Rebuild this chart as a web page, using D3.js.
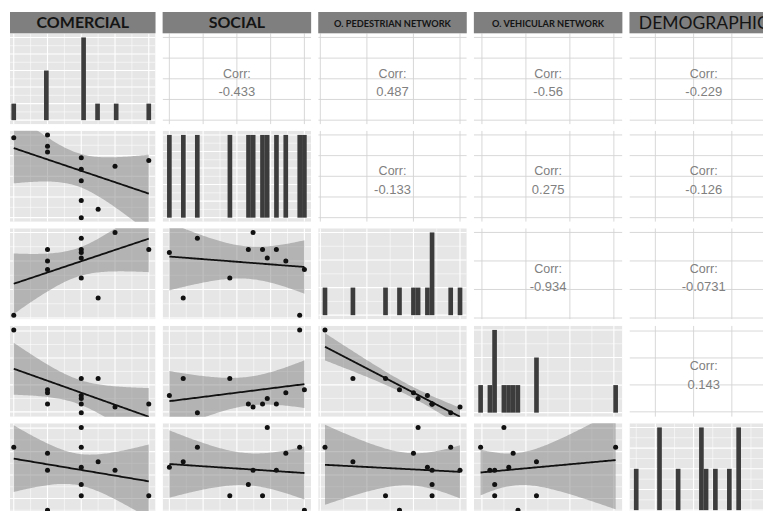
<!DOCTYPE html>
<html>
<head>
<meta charset="utf-8">
<script src="https://cdn.jsdelivr.net/npm/d3@7"></script>
<style>
  body { margin: 0; background: #ffffff; }
  svg { display: block; }
</style>
</head>
<body>
<svg id="chart" width="763" height="511"></svg>
<script>
// Variables of the pairs matrix, in display order
const variables = ["COMERCIAL", "SOCIAL", "O. PEDESTRIAN NETWORK", "O. VEHICULAR NETWORK", "DEMOGRAPHIC"];

// One value per observation (12 areas) for each variable
const comercial   = [0, 2, 2, 2, 4, 4, 4, 4, 4, 5, 6, 8];
const social      = [3.86, 4.00, 3.45, 3.17, 2.90, 2.34, 1.79, 0.83, 0.00, 0.41, 2.48, 2.76];
const pedestrian  = [1.1, 2.7, 3.0, 3.4, 3.1, 3.4, 2.4, 3.8, 3.3, 1.7, 4.0, 3.4];
const vehicular   = [4.04, 1.82, 1.71, 1.29, 1.50, 1.29, 2.24, 0.97, 1.61, 2.24, 1.18, 1.29];
const demographic = [3.18, 0.50, 2.93, 2.20, 4.03, 1.60, 1.11, 3.18, 2.33, 2.57, 2.20, 1.11];

// Major axis breaks of each variable
const comercialBreaks   = [0, 2, 4, 6, 8];
const socialBreaks      = [0, 1, 2, 3, 4];
const pedestrianBreaks  = [1, 2, 3, 4];
const vehicularBreaks   = [1, 2, 3, 4];
const demographicBreaks = [1, 2, 3, 4];

// Correlation labels of the upper triangle, row by row
const corrLabels = ["-0.433", "0.487", "-0.56", "-0.229", "-0.133", "0.275", "-0.126", "-0.934", "-0.0731", "0.143"];

const columns = [comercial, social, pedestrian, vehicular, demographic];
const breaks = [comercialBreaks, socialBreaks, pedestrianBreaks, vehicularBreaks, demographicBreaks];
const nVar = variables.length;
const nObs = comercial.length;

const svg = d3.select("#chart");
const defs = svg.append("defs");

// Panel layout
const colBand = d3.scaleBand().domain(d3.range(nVar)).range([7, 778]).paddingInner(0.0456);
const rowBand = d3.scaleBand().domain(d3.range(nVar)).range([33.3, 514.3]).paddingInner(0.0667);
const pageLeft = 10;
const stripTop = 12;

// ggplot-like 5% expansion of a range
function expand(ext) {
  const pad = (ext[1] - ext[0]) * 0.05;
  return [ext[0] - pad, ext[1] + pad];
}
const domains = columns.map(v => expand(d3.extent(v)));

function minorBreaks(majors, domain) {
  const step = majors[1] - majors[0];
  const out = [];
  for (let v = majors[0] - step / 2; v <= majors[majors.length - 1] + step / 2 + 1e-9; v += step) {
    if (v >= domain[0] && v <= domain[1]) out.push(v);
  }
  return out;
}

// Ordinary least squares fit with a 95% confidence band
function lmBand(xs, ys) {
  const n = xs.length;
  const mx = d3.mean(xs), my = d3.mean(ys);
  let sxx = 0, sxy = 0;
  for (let i = 0; i < n; i++) { sxx += (xs[i] - mx) ** 2; sxy += (xs[i] - mx) * (ys[i] - my); }
  const b = sxy / sxx, a = my - b * mx;
  let sse = 0;
  for (let i = 0; i < n; i++) sse += (ys[i] - (a + b * xs[i])) ** 2;
  const s = Math.sqrt(sse / (n - 2));
  const t = 2.228; // t quantile, 0.975 with 10 df
  const [x0, x1] = d3.extent(xs);
  return d3.range(81).map(k => {
    const x = x0 + (x1 - x0) * k / 80;
    const fit = a + b * x;
    const se = s * Math.sqrt(1 / n + (x - mx) ** 2 / sxx);
    return { x, fit, lo: fit - t * se, hi: fit + t * se };
  });
}

function drawGrid(g, x0, y0, w, h, xScale, yScale, xMajor, xMinor, yMajor, yMinor, color, majorW, minorW) {
  g.selectAll(null).data(xMinor).join("line")
    .attr("x1", d => xScale(d)).attr("x2", d => xScale(d))
    .attr("y1", y0).attr("y2", y0 + h)
    .attr("stroke", color).attr("stroke-width", minorW);
  g.selectAll(null).data(yMinor).join("line")
    .attr("x1", x0).attr("x2", x0 + w)
    .attr("y1", d => yScale(d)).attr("y2", d => yScale(d))
    .attr("stroke", color).attr("stroke-width", minorW);
  g.selectAll(null).data(xMajor).join("line")
    .attr("x1", d => xScale(d)).attr("x2", d => xScale(d))
    .attr("y1", y0).attr("y2", y0 + h)
    .attr("stroke", color).attr("stroke-width", majorW);
  g.selectAll(null).data(yMajor).join("line")
    .attr("x1", x0).attr("x2", x0 + w)
    .attr("y1", d => yScale(d)).attr("y2", d => yScale(d))
    .attr("stroke", color).attr("stroke-width", majorW);
}

const panelBg = "#e6e6e6";
let corrIndex = 0;

for (let r = 0; r < nVar; r++) {
  for (let c = 0; c < nVar; c++) {
    const x0 = colBand(c), y0 = rowBand(r);
    const w = colBand.bandwidth(), h = rowBand.bandwidth();
    const clipX = Math.max(x0, pageLeft);
    const clipId = `clip-${r}-${c}`;
    defs.append("clipPath").attr("id", clipId)
      .append("rect").attr("x", clipX).attr("y", y0).attr("width", x0 + w - clipX).attr("height", h);
    const g = svg.append("g").attr("clip-path", `url(#${clipId})`);

    const xScale = d3.scaleLinear().domain(domains[c]).range([x0, x0 + w]);

    if (r < c) {
      // Upper triangle: correlation text
      const yScale = d3.scaleLinear().domain(domains[r]).range([y0 + h, y0]);
      g.append("rect").attr("x", x0).attr("y", y0).attr("width", w).attr("height", h).attr("fill", "#ffffff");
      drawGrid(g, x0, y0, w, h, xScale, yScale, breaks[c], [], breaks[r], [], "#d4d4d4", 0.9, 0);
      const cx = x0 + w / 2, cy = y0 + h / 2;
      g.append("text").attr("x", cx).attr("y", cy - 5)
        .attr("text-anchor", "middle").attr("dominant-baseline", "central")
        .attr("font-family", "Liberation Sans, Arial, sans-serif").attr("font-size", 12.5)
        .attr("fill", "#808080").text("Corr:");
      g.append("text").attr("x", cx).attr("y", cy + 13)
        .attr("text-anchor", "middle").attr("dominant-baseline", "central")
        .attr("font-family", "Liberation Sans, Arial, sans-serif").attr("font-size", 13)
        .attr("fill", "#808080").text(corrLabels[corrIndex++]);
    } else if (r === c) {
      // Diagonal: histogram with 30 bins
      const vals = columns[c];
      const [mn, mx] = d3.extent(vals);
      const bw = (mx - mn) / 29;
      const bins = d3.bin()
        .domain([mn - bw / 2, mx + bw / 2])
        .thresholds(d3.range(1, 30).map(k => mn - bw / 2 + k * bw))(vals);
      const maxCount = d3.max(bins, b => b.length);
      const yScale = d3.scaleLinear().domain(expand([0, maxCount])).range([y0 + h, y0]);
      const yMajor = yScale.ticks(4).filter(v => v >= 0);
      const yStep = yMajor[1] - yMajor[0];
      const yMinor = yMajor.map(v => v + yStep / 2).filter(v => v <= yScale.domain()[1]);
      g.append("rect").attr("x", x0).attr("y", y0).attr("width", w).attr("height", h).attr("fill", panelBg);
      drawGrid(g, x0, y0, w, h, xScale, yScale, breaks[c], minorBreaks(breaks[c], domains[c]),
               yMajor, yMinor, "#ffffff", 1.1, 0.55);
      g.selectAll(null).data(bins.filter(b => b.length > 0)).join("rect")
        .attr("x", b => xScale(b.x0))
        .attr("width", b => xScale(b.x1) - xScale(b.x0))
        .attr("y", b => yScale(b.length))
        .attr("height", b => yScale(0) - yScale(b.length))
        .attr("fill", "#3c3c3c");
    } else {
      // Lower triangle: scatter with linear fit
      const yScale = d3.scaleLinear().domain(domains[r]).range([y0 + h, y0]);
      g.append("rect").attr("x", x0).attr("y", y0).attr("width", w).attr("height", h).attr("fill", panelBg);
      drawGrid(g, x0, y0, w, h, xScale, yScale, breaks[c], minorBreaks(breaks[c], domains[c]),
               breaks[r], minorBreaks(breaks[r], domains[r]), "#ffffff", 1.1, 0.55);
      const xs = columns[c], ys = columns[r];
      const band = lmBand(xs, ys);
      g.append("path").datum(band)
        .attr("d", d3.area().x(d => xScale(d.x)).y0(d => yScale(d.lo)).y1(d => yScale(d.hi)))
        .attr("fill", "#7a7a7a").attr("fill-opacity", 0.47);
      g.append("path").datum(band)
        .attr("d", d3.line().x(d => xScale(d.x)).y(d => yScale(d.fit)))
        .attr("fill", "none").attr("stroke", "#111111").attr("stroke-width", 1.8);
      g.selectAll(null).data(d3.range(nObs)).join("circle")
        .attr("cx", i => xScale(xs[i])).attr("cy", i => yScale(ys[i]))
        .attr("r", 2.5).attr("fill", "#111111");
    }
  }
}

// Column header strips
const stripStyles = [
  { size: 16, weight: 700, base: 28.3 },
  { size: 16, weight: 700, base: 28.3 },
  { size: 9.2, weight: 700, base: 26.8 },
  { size: 9.2, weight: 700, base: 26.8 },
  { size: 17.5, weight: 400, base: 29.2 }
];
for (let c = 0; c < nVar; c++) {
  const x0 = colBand(c), w = colBand.bandwidth();
  const sx = Math.max(x0, pageLeft);
  svg.append("rect").attr("x", sx).attr("y", stripTop)
    .attr("width", x0 + w - sx).attr("height", rowBand(0) - stripTop)
    .attr("fill", "#7f7f7f");
  const st = stripStyles[c];
  svg.append("text").attr("x", (sx + x0 + w) / 2).attr("y", st.base)
    .attr("text-anchor", "middle")
    .attr("font-family", "Lato, 'Open Sans', sans-serif")
    .attr("font-size", st.size).attr("font-weight", st.weight)
    .attr("fill", "#141414").text(variables[c]);
}
</script>
</body>
</html>
